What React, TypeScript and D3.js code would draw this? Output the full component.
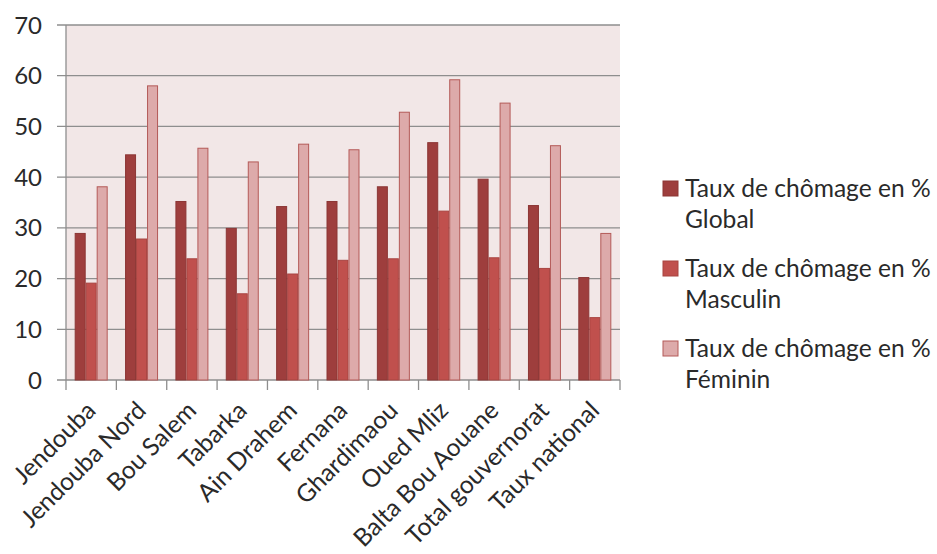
import React from "react";
import * as d3 from "d3";

const categories = [
  "Jendouba",
  "Jendouba Nord",
  "Bou Salem",
  "Tabarka",
  "Ain Drahem",
  "Fernana",
  "Ghardimaou",
  "Oued Mliz",
  "Balta Bou Aouane",
  "Total gouvernorat",
  "Taux national",
];

const globalRates = [28.9, 44.4, 35.2, 29.9, 34.2, 35.2, 38.1, 46.8, 39.6, 34.4, 20.2];
const maleRates = [19.1, 27.8, 23.9, 17.0, 20.9, 23.6, 23.9, 33.3, 24.1, 22.0, 12.3];
const femaleRates = [38.1, 58.0, 45.7, 43.0, 46.5, 45.4, 52.8, 59.2, 54.6, 46.2, 28.9];

const seriesNames = ["Global", "Masculin", "Féminin"];
const seriesValues = [globalRates, maleRates, femaleRates];
const legendPrefix = "Taux de chômage en %";

const yTicks = [0, 10, 20, 30, 40, 50, 60, 70];

const fills = ["#9E3E3D", "#C0504D", "#DDAAAA"];
const strokes = ["#8C3635", "#A84441", "#B45A58"];

const W = 937;
const H = 554;
const plot = { left: 66, right: 620, top: 25, bottom: 380 };
const FONT = "Lato, 'Open Sans', sans-serif";
const TEXT = "#2a2a2a";
const LABEL_SIZE = 24.6;

export default function App() {
  const x = d3
    .scaleBand<string>()
    .domain(categories)
    .range([plot.left, plot.right])
    .padding(0);
  const inner = d3
    .scaleBand<string>()
    .domain(seriesNames)
    .range([0, x.bandwidth()])
    .paddingInner(0)
    .paddingOuter(0.79);
  const y = d3.scaleLinear().domain([0, 70]).range([plot.bottom, plot.top]);

  const boundaries = d3.range(categories.length + 1).map(
    (i) => plot.left + i * x.step()
  );

  return (
    <svg
      width={W}
      height={H}
      style={{ position: "absolute", left: 0, top: 0, background: "#fff" }}
      fontFamily={FONT}
    >
      {/* plot background */}
      <rect
        x={plot.left}
        y={plot.top}
        width={plot.right - plot.left}
        height={plot.bottom - plot.top}
        fill="#F2E7E7"
      />
      {/* gridlines and y ticks */}
      {yTicks.map((t) => (
        <g key={t}>
          <line
            x1={plot.left - 9}
            x2={plot.right}
            y1={y(t)}
            y2={y(t)}
            stroke="#8E8E8E"
            strokeWidth={1.3}
          />
          <text
            x={42}
            y={y(t)}
            dy="0.36em"
            textAnchor="end"
            fontSize={24}
            fill={TEXT}
          >
            {t}
          </text>
        </g>
      ))}
      {/* bars */}
      {categories.map((c, i) => (
        <g key={c} transform={`translate(${x(c)},0)`}>
          {seriesNames.map((s, k) => {
            const v = seriesValues[k][i];
            return (
              <rect
                key={s}
                x={(inner(s) as number) + 0.5}
                y={y(v)}
                width={inner.bandwidth() - 1}
                height={y(0) - y(v)}
                fill={fills[k]}
                stroke={strokes[k]}
                strokeWidth={1}
              />
            );
          })}
        </g>
      ))}
      {/* axes */}
      <line
        x1={plot.left}
        x2={plot.left}
        y1={plot.top}
        y2={plot.bottom}
        stroke="#8E8E8E"
        strokeWidth={1.3}
      />
      {boundaries.map((bx, i) => (
        <line
          key={i}
          x1={bx}
          x2={bx}
          y1={plot.bottom}
          y2={plot.bottom + 10}
          stroke="#8E8E8E"
          strokeWidth={1.3}
        />
      ))}
      {/* category labels */}
      {categories.map((c) => {
        const cx = (x(c) as number) + x.bandwidth() / 2 + 6;
        return (
          <text
            key={c}
            transform={`translate(${cx},412) rotate(-45)`}
            textAnchor="end"
            fontSize={LABEL_SIZE}
            fill={TEXT}
          >
            {c}
          </text>
        );
      })}
      {/* legend */}
      {seriesNames.map((s, k) => {
        const top = 181 + k * 80;
        return (
          <g key={s}>
            <rect
              x={663}
              y={top}
              width={15}
              height={15}
              fill={fills[k]}
              stroke={strokes[k]}
            />
            <text x={685} y={top + 16} fontSize={LABEL_SIZE} fill={TEXT}>
              {legendPrefix}
            </text>
            <text x={685} y={top + 47} fontSize={LABEL_SIZE} fill={TEXT}>
              {s}
            </text>
          </g>
        );
      })}
    </svg>
  );
}
